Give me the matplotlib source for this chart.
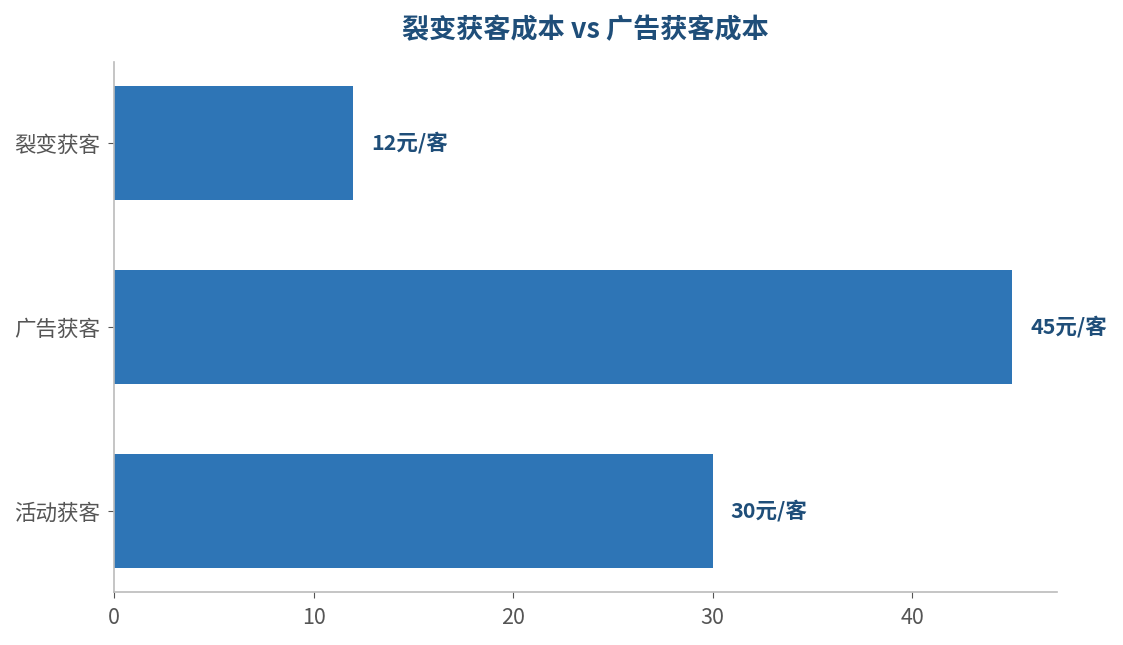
import matplotlib
matplotlib.use("Agg")
import matplotlib.pyplot as plt

plt.rcParams['font.family'] = ['Noto Sans CJK SC', 'DejaVu Sans']

categories = ['裂变获客', '广告获客', '活动获客']
values = [12, 45, 30]
value_labels = ['12元/客', '45元/客', '30元/客']
title = '裂变获客成本 vs 广告获客成本'

bar_color = '#2E75B6'
text_color = '#1F4E79'

fig = plt.figure(figsize=(11.23, 6.45), dpi=100)
ax = fig.add_axes([0.1015, 0.0822, 0.8397, 0.8217])

y = list(range(len(categories)))
ax.barh(y, values, height=0.62, color=bar_color)
ax.set_yticks(y)
ax.set_yticklabels(categories)
ax.set_ylim(2.44, -0.44)
ax.set_xlim(0, max(values) * 1.05)
ax.set_xticks([0, 10, 20, 30, 40])

for yi, v, lab in zip(y, values, value_labels):
    ax.text(v + 0.9, yi, lab, va='center', ha='left', fontsize=15.5,
            fontweight='bold', color=text_color)

ax.set_title(title, fontsize=19.5, fontweight='bold', color=text_color, pad=17)

for s in ['top', 'right']:
    ax.spines[s].set_visible(False)
for s in ['left', 'bottom']:
    ax.spines[s].set_color('#BBBBBB')
    ax.spines[s].set_linewidth(1.2)
ax.tick_params(axis='both', colors='#555555', labelsize=15.5, length=4)
ax.tick_params(axis='y', pad=6)
ax.tick_params(axis='x', pad=7)

fig.savefig('out.png', dpi=100)
